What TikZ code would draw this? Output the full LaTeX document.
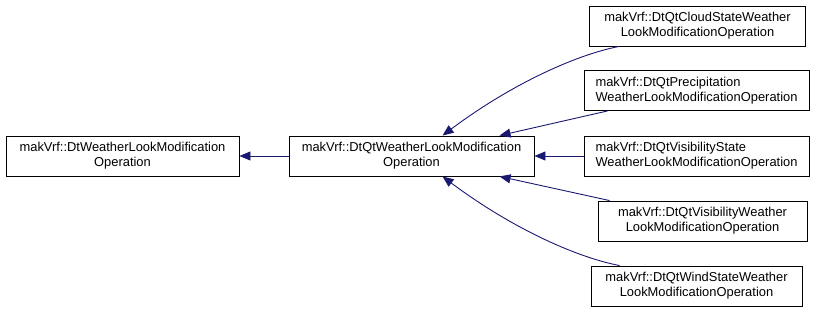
\documentclass[tikz,border=0pt]{standalone}
\usepackage{fontspec}
\setmainfont{Liberation Sans}
\usetikzlibrary{arrows.meta,calc}
\definecolor{edgeblue}{HTML}{191970}
\begin{document}
\begin{tikzpicture}[x=1pt,y=-1pt,
  cls/.style={draw=black,line width=0.9pt,minimum height=40pt,inner sep=0pt,
    font=\fontsize{12.9}{15}\selectfont,anchor=center},
  arr/.style={draw=edgeblue,line width=0.9pt,-{Triangle[length=11pt,width=9pt]}}]
\useasboundingbox (0,0) rectangle (816,312);
\node[cls,minimum width=233pt,align=center] (A) at (122.5,156) {makVrf::DtWeatherLookModification\\Operation};
\node[cls,minimum width=245pt,align=center] (B) at (411.5,156) {makVrf::DtQtWeatherLookModification\\Operation};
\node[cls,minimum width=216pt,align=center] (C1) at (697.5,26) {makVrf::DtQtCloudStateWeather\\LookModificationOperation};
\node[cls,minimum width=225pt,align=left] (C2) at (696.5,90.5) {makVrf::DtQtPrecipitation\\WeatherLookModificationOperation};
\node[cls,minimum width=225pt,align=left] (C3) at (696.5,156) {makVrf::DtQtVisibilityState\\WeatherLookModificationOperation};
\node[cls,minimum width=209pt,align=center] (C4) at (702.5,221) {makVrf::DtQtVisibilityWeather\\LookModificationOperation};
\node[cls,minimum width=211pt,align=center] (C5) at (696.5,286) {makVrf::DtQtWindStateWeather\\LookModificationOperation};
\draw[arr] (B.west) -- (A.east);
\draw[arr] (C3.west) -- (B.east);
\draw[arr] ([xshift=30pt]C1.south west) .. controls (575,55) and (510,85) .. ([xshift=154pt]B.north west);
\draw[arr] ([xshift=24pt]C2.south west) -- ([xshift=211pt]B.north west);
\draw[arr] ([xshift=12pt]C4.north west) -- ([xshift=211pt]B.south west);
\draw[arr] ([xshift=29pt]C5.north west) .. controls (575,257) and (510,227) .. ([xshift=154pt]B.south west);
\end{tikzpicture}
\end{document}
